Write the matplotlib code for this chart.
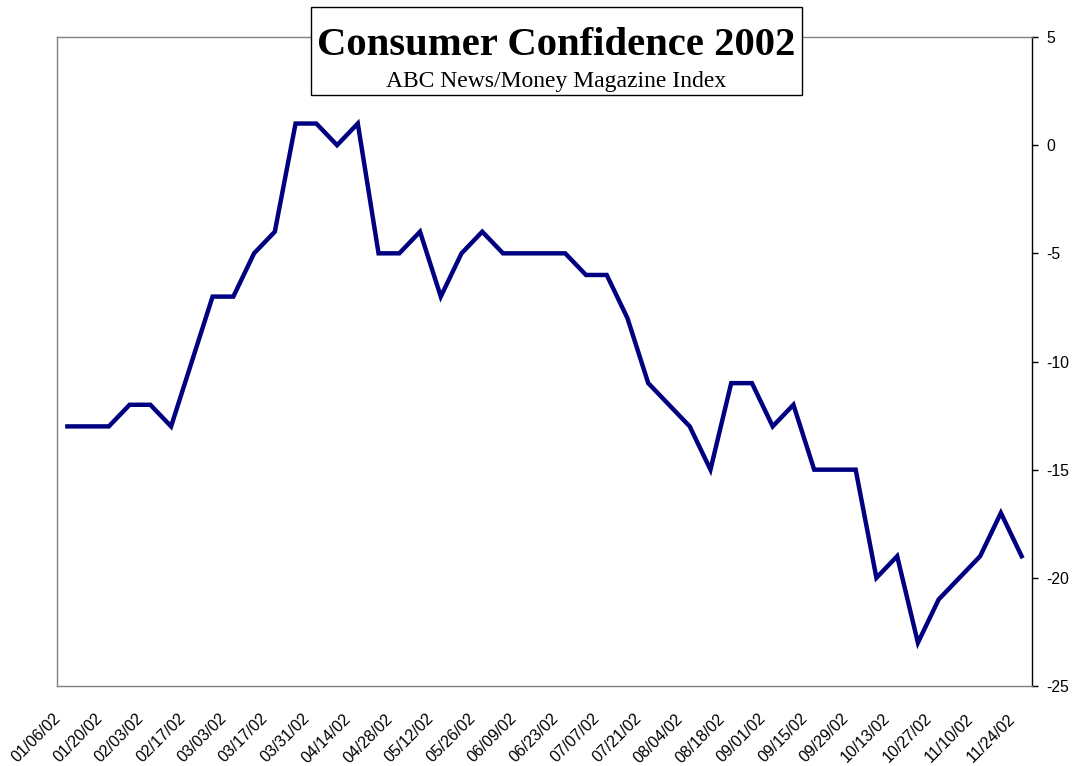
import matplotlib.pyplot as plt
from matplotlib.patches import Rectangle
from matplotlib.transforms import ScaledTranslation

plt.rcParams['font.family'] = ['Liberation Sans', 'DejaVu Sans']
plt.rcParams['axes.unicode_minus'] = False

# weekly index, 01/06/02 .. 11/24/02
confidence = [-13, -13, -13, -12, -12, -13, -10, -7, -7, -5,
              -4, 1, 1, 0, 1, -5, -5, -4, -7, -5,
              -4, -5, -5, -5, -5, -6, -6, -8, -11, -12,
              -13, -15, -11, -11, -13, -12, -15, -15, -15, -20,
              -19, -23, -21, -20, -19, -17, -19]

tick_labels = ['01/06/02', '01/20/02', '02/03/02', '02/17/02', '03/03/02', '03/17/02',
               '03/31/02', '04/14/02', '04/28/02', '05/12/02', '05/26/02', '06/09/02',
               '06/23/02', '07/07/02', '07/21/02', '08/04/02', '08/18/02', '09/01/02',
               '09/15/02', '09/29/02', '10/13/02', '10/27/02', '11/10/02', '11/24/02']

y_ticks = [5, 0, -5, -10, -15, -20, -25]

fig = plt.figure(figsize=(10.72, 7.66), dpi=100)
ax = fig.add_axes([57/1072, 1 - 686/766, 975/1072, 649/766])

weeks = list(range(len(confidence)))
ax.plot(weeks, confidence, color='#000080', linewidth=3.2, solid_joinstyle='miter')

ax.set_xlim(-0.5, len(confidence) - 0.5)
ax.set_ylim(-25, 5)

ax.set_xticks(weeks[::2])
ax.set_xticklabels(tick_labels, rotation=45, ha='right', va='top', fontsize=11.5)
ax.tick_params(axis='x', length=0, pad=18)
shift = ScaledTranslation(-4/100, 0, fig.dpi_scale_trans)
for lab in ax.get_xticklabels():
    lab.set_transform(lab.get_transform() + shift)

ax.yaxis.tick_right()
ax.set_yticks(y_ticks)
ax.set_yticklabels([str(v) for v in y_ticks], fontsize=11.3)
ax.tick_params(axis='y', direction='out', length=4, width=1, pad=6)

for side in ['left', 'top', 'bottom']:
    ax.spines[side].set_color('#808080')
    ax.spines[side].set_linewidth(1)
ax.spines['right'].set_color('black')
ax.spines['right'].set_linewidth(1)

# title box sits over the top border
box = Rectangle((311/1072, 1 - 95/766), 491/1072, 88/766, transform=fig.transFigure,
                facecolor='white', edgecolor='black', linewidth=1, zorder=5)
fig.patches.append(box)
fig.text(556/1072, 1 - 55/766, 'Consumer Confidence 2002', ha='center', va='baseline',
         family='Liberation Serif', fontweight='bold', fontsize=29.3, zorder=6)
fig.text(556/1072, 1 - 87/766, 'ABC News/Money Magazine Index', ha='center', va='baseline',
         family='Liberation Serif', fontsize=17, zorder=6)

plt.savefig('out.png')
